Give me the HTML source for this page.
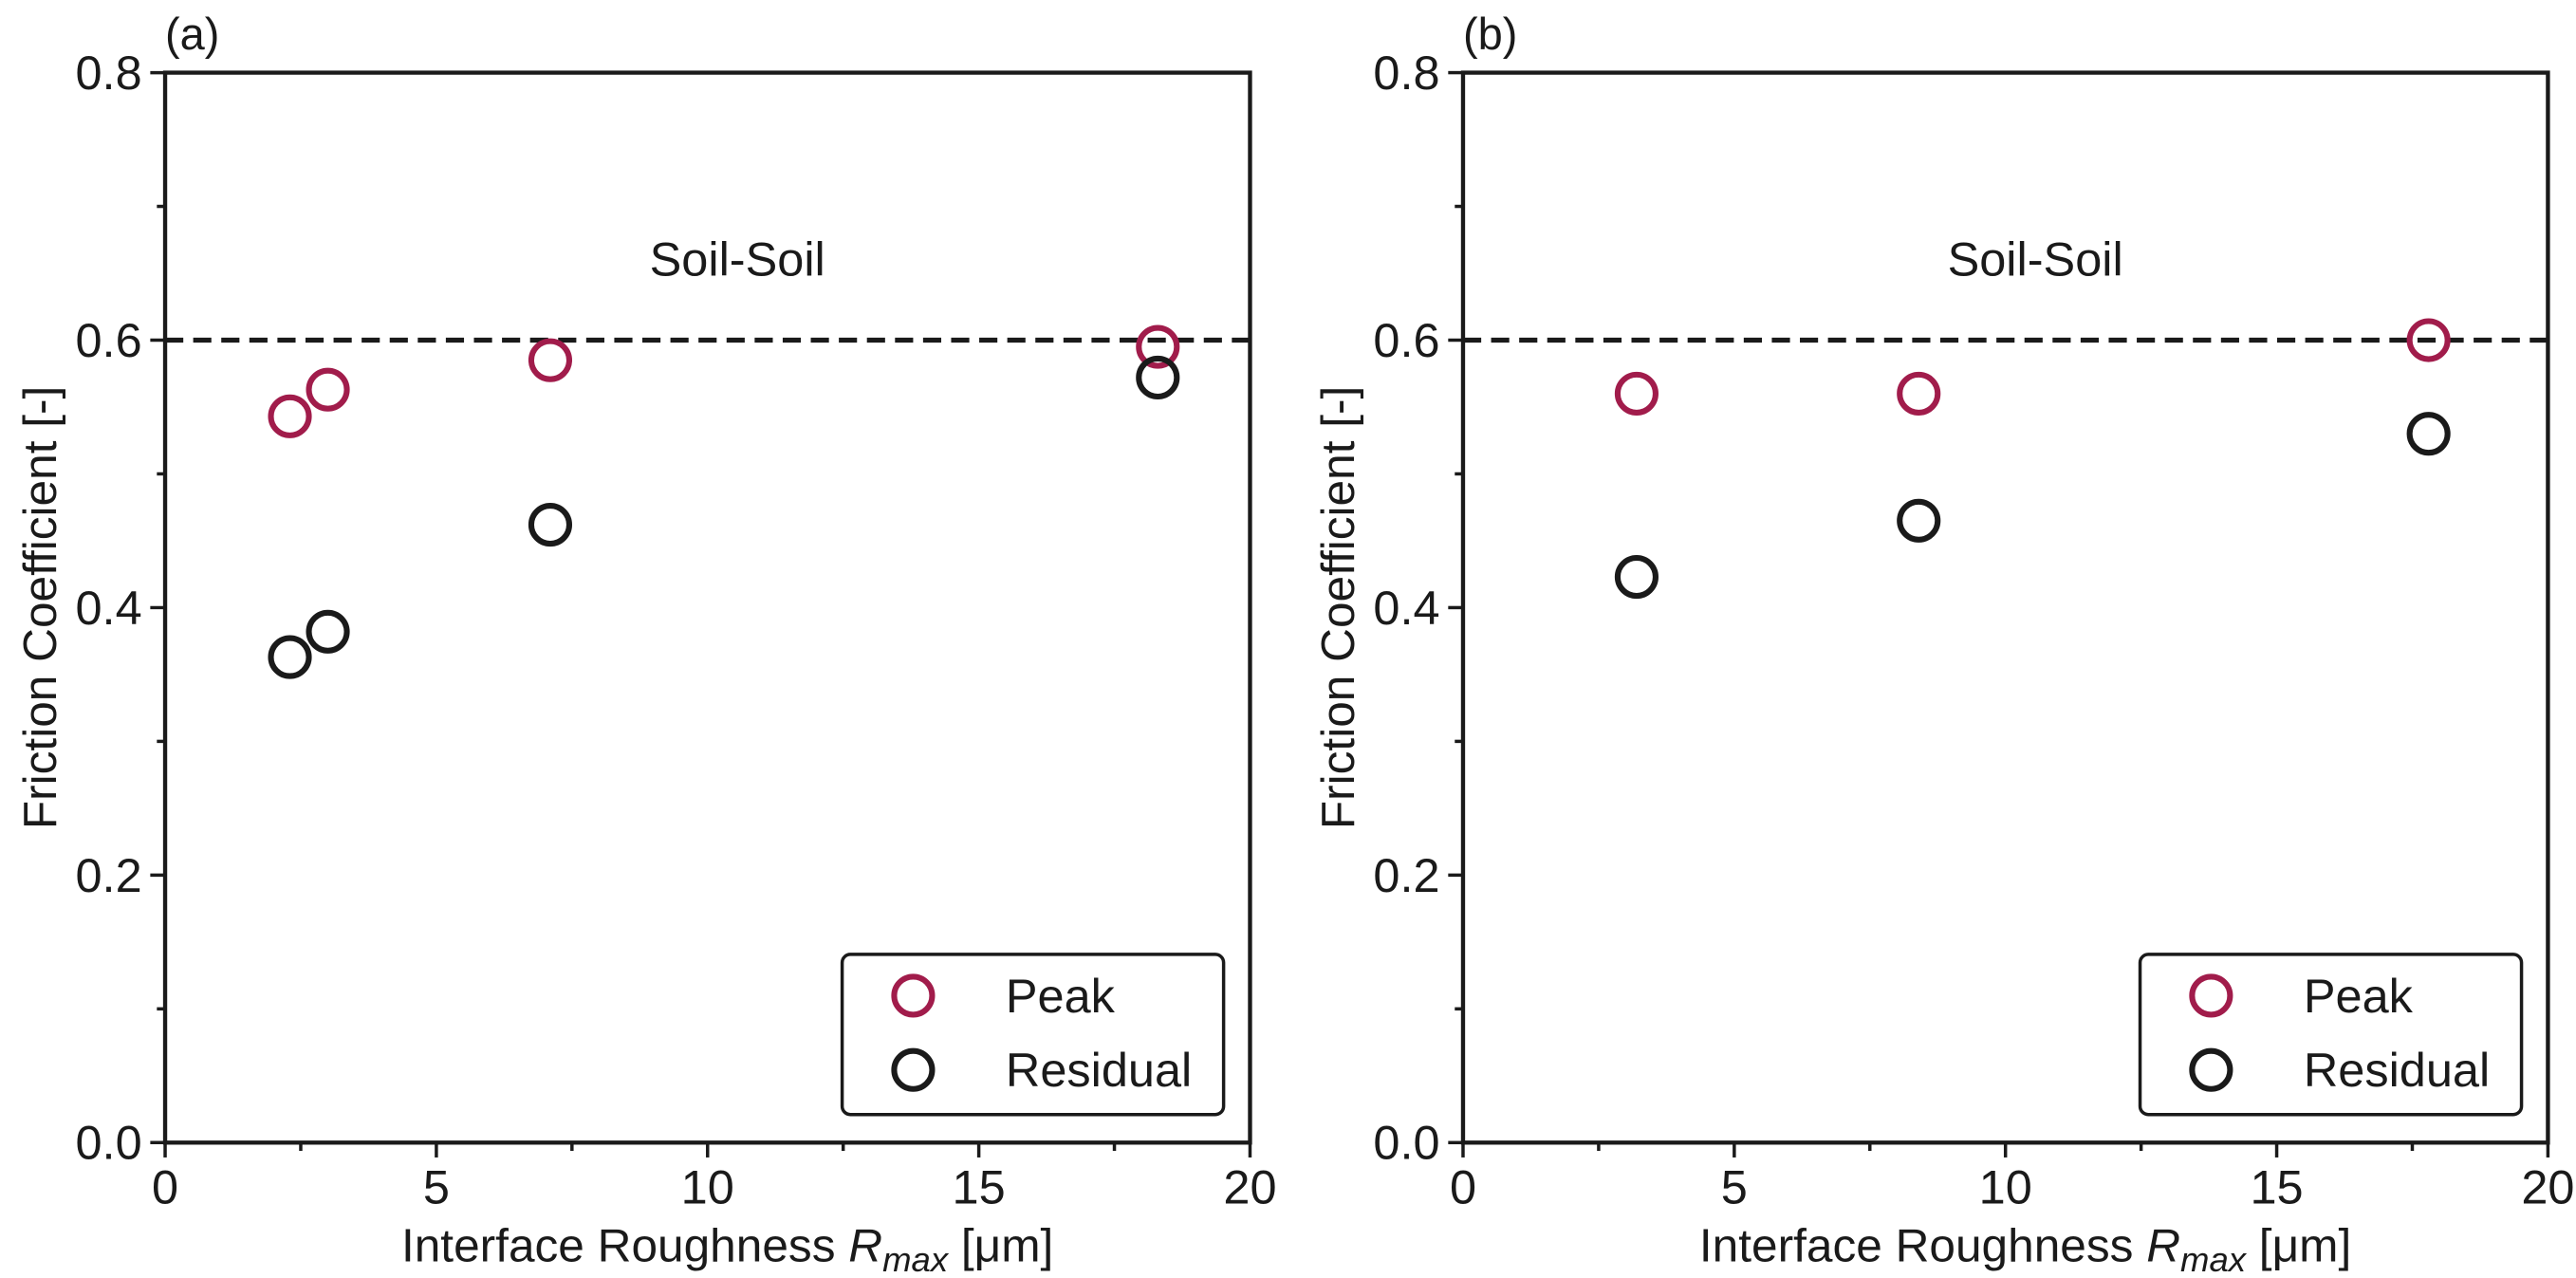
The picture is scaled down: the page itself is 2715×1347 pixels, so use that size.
<!DOCTYPE html>
<html><head><meta charset="utf-8"><style>
html,body{margin:0;padding:0;background:#fff;}
svg{display:block;font-family:"Liberation Sans",Arial,sans-serif;}
</style></head><body>
<svg id="fig" width="2715" height="1347" viewBox="0 0 1560 774" preserveAspectRatio="none" xmlns="http://www.w3.org/2000/svg"></svg>
<script>
const peakA_x=[2.3,3.0,7.1,18.3];
const peakA_y=[0.543,0.563,0.585,0.595];
const resA_x=[2.3,3.0,7.1,18.3];
const resA_y=[0.363,0.382,0.462,0.572];
const peakB_x=[3.2,8.4,17.8];
const peakB_y=[0.56,0.56,0.60];
const resB_x=[3.2,8.4,17.8];
const resB_y=[0.423,0.465,0.53];
const xTicks=[0,5,10,15,20];
const yTicks=[0,0.2,0.4,0.6,0.8];
const yTickLabels=["0.0","0.2","0.4","0.6","0.8"];
const refLine=0.6;

const NS="http://www.w3.org/2000/svg";
const svg=document.getElementById('fig');
function mk(tag,attrs,parent){const e=document.createElementNS(NS,tag);for(const k in attrs)e.setAttribute(k,attrs[k]);(parent||svg).appendChild(e);return e;}

function panel(x0,label,px,py,rx,ry,id){
  const x1=x0+657,yTop=44,yBot=692;
  const sx=v=>x0+v/20*(x1-x0);
  const sy=v=>yBot-v/0.8*(yBot-yTop);
  const g=mk('g',{});
  
  
  const rl=mk('line',{x1:x0,x2:x1,y1:sy(refLine),y2:sy(refLine),stroke:'#1a1a1a','stroke-width':3,'stroke-dasharray':'11,6'},g);
  
  
  for(let v=0;v<=20.001;v+=2.5){const maj=Math.abs(v%5)<0.01;
    mk('line',{x1:sx(v),x2:sx(v),y1:yBot,y2:yBot+(maj?9:5),stroke:'#1a1a1a','stroke-width':2},g);}
  for(let v=0;v<=0.8001;v+=0.1){const maj=Math.round(v*10)%2===0;
    mk('line',{x1:x0,x2:x0-(maj?9:5),y1:sy(v),y2:sy(v),stroke:'#1a1a1a','stroke-width':2},g);}
  xTicks.forEach(v=>{const t=mk('text',{x:sx(v),y:yBot+37,'font-size':29,'text-anchor':'middle',fill:'#1a1a1a'},g);t.textContent=v;
    });
  yTicks.forEach((v,i)=>{const t=mk('text',{x:x0-14,y:sy(v)+10,'font-size':29,'text-anchor':'end',fill:'#1a1a1a'},g);t.textContent=yTickLabels[i];
    });
  const fr=mk('rect',{x:x0,y:yTop,width:x1-x0,height:yBot-yTop,fill:'none',stroke:'#1a1a1a','stroke-width':2.5},g);
  
  const pl=mk('text',{x:x0,y:30,'font-size':27,fill:'#1a1a1a'},g);pl.textContent=label;
  
  const ss=mk('text',{x:sx(10.55),y:167,'font-size':29,'text-anchor':'middle',fill:'#1a1a1a'},g);ss.textContent='Soil-Soil';
  
  const xl=mk('text',{x:(x0+x1)/2+12,y:764,'font-size':28.5,'text-anchor':'middle',fill:'#1a1a1a'},g);
  xl.innerHTML='Interface Roughness <tspan font-style="italic">R</tspan><tspan font-style="italic" font-size="21" dy="6">max</tspan><tspan dy="-6"> [μm]</tspan>';
  
  const yl=mk('text',{x:0,y:0,'font-size':28.5,'text-anchor':'middle',fill:'#1a1a1a',transform:`translate(${x0-66},368) rotate(-90)`},g);
  yl.textContent='Friction Coefficient [-]';
  
  px.forEach((v,i)=>{const c=mk('circle',{cx:sx(v),cy:sy(py[i]),r:11.5,fill:'none',stroke:'#a11c4b','stroke-width':3.5},g);
    });
  rx.forEach((v,i)=>{const c=mk('circle',{cx:sx(v),cy:sy(ry[i]),r:11.5,fill:'none',stroke:'#1a1a1a','stroke-width':3.5},g);
    });
  const lg=mk('g',{},g);
  
  const lx=x0+410;
  mk('rect',{x:lx,y:578,width:231,height:97,rx:5,fill:'#fff',stroke:'#1a1a1a','stroke-width':2},lg);
  mk('circle',{cx:lx+43,cy:603,r:11.5,fill:'none',stroke:'#a11c4b','stroke-width':3.5},lg);
  mk('circle',{cx:lx+43,cy:648,r:11.5,fill:'none',stroke:'#1a1a1a','stroke-width':3.5},lg);
  const t1=mk('text',{x:lx+99,y:613,'font-size':29,fill:'#1a1a1a'},lg);t1.textContent='Peak';
  
  const t2=mk('text',{x:lx+99,y:658,'font-size':29,fill:'#1a1a1a'},lg);t2.textContent='Residual';
  
}
panel(100,'(a)',peakA_x,peakA_y,resA_x,resA_y,'a');
panel(886,'(b)',peakB_x,peakB_y,resB_x,resB_y,'b');
</script>
</body></html>
